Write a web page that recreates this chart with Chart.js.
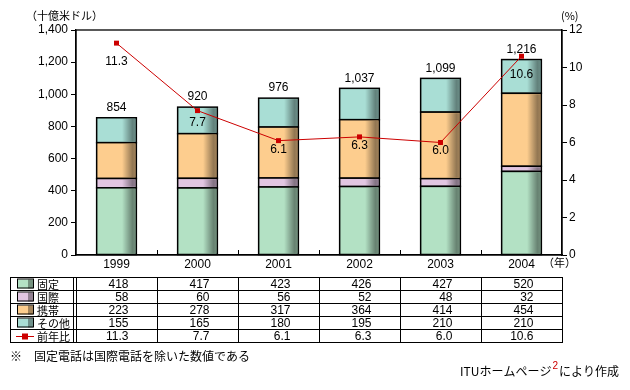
<!DOCTYPE html>
<html>
<head>
<meta charset="utf-8">
<script src="https://cdn.jsdelivr.net/npm/chart.js@4"></script>
<style>
  html, body { margin: 0; padding: 0; background: #fff; }
  #wrap { width: 630px; height: 390px; position: relative; }
</style>
</head>
<body>
<div id="wrap"><canvas id="grafica" width="630" height="390"></canvas></div>
<script>
// datos del gráfico
const years = ['1999', '2000', '2001', '2002', '2003', '2004'];
const fijo = [418, 417, 423, 426, 427, 520];
const internacional = [58, 60, 56, 52, 48, 32];
const movil = [223, 278, 317, 364, 414, 454];
const otros = [155, 165, 180, 195, 210, 210];
const crecimiento = [11.3, 7.7, 6.1, 6.3, 6.0, 10.6];
const totales = [854, 920, 976, 1037, 1099, 1216];
const seriesNames = ['固定', '国際', '携帯', 'その他', '前年比'];

const colores = ['#b3e1c4', '#e2c6e2', '#fdcd8e', '#a9ded5'];
const rojo = '#cc0000';
const numFont = "12px 'Liberation Sans', Arial, sans-serif";
const jpFont = "11px 'Noto Sans CJK JP', sans-serif";
const notaFont = "12px 'Noto Sans CJK JP', sans-serif";
// desplazamiento vertical de las etiquetas del porcentaje
const labelOffsets = [19, 12, 9, 9, 8, 18];

const fmt = v => v.toLocaleString('en-US');

const sombraBarras = {
  id: 'sombraBarras',
  afterDatasetDraw(chart, args) {
    const meta = args.meta;
    if (meta.type !== 'bar') return;
    const ctx = chart.ctx;
    meta.data.forEach(bar => {
      const p = bar.getProps(['x', 'y', 'base', 'width'], true);
      const l = p.x - p.width / 2, r = p.x + p.width / 2;
      const top = Math.min(p.y, p.base), bot = Math.max(p.y, p.base);
      const g = ctx.createLinearGradient(l, 0, r, 0);
      g.addColorStop(0, 'rgba(0,0,0,0)');
      g.addColorStop(0.64, 'rgba(0,0,0,0)');
      g.addColorStop(0.9, 'rgba(0,0,0,0.42)');
      g.addColorStop(1, 'rgba(0,0,0,0.36)');
      ctx.save();
      ctx.fillStyle = g;
      ctx.fillRect(l + 1, top + 1, p.width - 2, bot - top - 2);
      ctx.strokeStyle = '#000';
      ctx.lineWidth = 1.5;
      ctx.strokeRect(l, top, p.width, bot - top);
      ctx.restore();
    });
  }
};

const extras = {
  id: 'extras',
  afterDraw(chart) {
    const ctx = chart.ctx;
    const a = chart.chartArea;
    const x = chart.scales.x;
    ctx.save();
    // marco
    ctx.strokeStyle = '#000';
    ctx.lineWidth = 1.3;
    ctx.strokeRect(a.left, a.top, a.right - a.left, a.bottom - a.top);
    // marcas del eje x
    const cw = (a.right - a.left) / years.length;
    ctx.lineWidth = 1;
    for (let i = 1; i < years.length; i++) {
      const px = Math.round(a.left + cw * i) + 0.5;
      ctx.beginPath();
      ctx.moveTo(px, a.bottom);
      ctx.lineTo(px, a.bottom - 5);
      ctx.stroke();
    }

    ctx.fillStyle = '#000';
    ctx.font = numFont;
    ctx.textAlign = 'center';
    ctx.textBaseline = 'middle';
    // totales
    const topMeta = chart.getDatasetMeta(4);
    topMeta.data.forEach((bar, i) => {
      ctx.fillText(fmt(totales[i]), bar.x, bar.y - 10);
    });
    // etiquetas del porcentaje
    const lineMeta = chart.getDatasetMeta(0);
    lineMeta.data.forEach((pt, i) => {
      ctx.fillText(crecimiento[i].toFixed(1), pt.x, pt.y + labelOffsets[i]);
    });

    // títulos de ejes
    ctx.font = jpFont;
    ctx.textAlign = 'left';
    ctx.fillText('（十億米ドル）', 26, 16);
    ctx.fillText('(%)', 561, 16);
    ctx.fillText('（年）', 543, 263);

    // tabla
    const t0 = 277, rh = 13, tl = 10, tr = a.right;
    ctx.lineWidth = 1;
    ctx.strokeStyle = '#000';
    ctx.strokeRect(tl + 0.5, t0 + 0.5, tr - tl, rh * 5);
    for (let r = 1; r < 5; r++) {
      ctx.beginPath();
      ctx.moveTo(tl, t0 + rh * r + 0.5);
      ctx.lineTo(tr, t0 + rh * r + 0.5);
      ctx.stroke();
    }
    [73.5, 76.5].forEach(px => {
      ctx.beginPath();
      ctx.moveTo(px, t0);
      ctx.lineTo(px, t0 + rh * 5);
      ctx.stroke();
    });
    for (let i = 1; i < years.length; i++) {
      const px = Math.round(a.left + cw * i) + 0.5;
      ctx.beginPath();
      ctx.moveTo(px, t0);
      ctx.lineTo(px, t0 + rh * 5);
      ctx.stroke();
    }
    const filas = [fijo, internacional, movil, otros];
    for (let r = 0; r < 5; r++) {
      const cy = t0 + rh * r + rh / 2 + 1;
      // leyenda
      if (r < 4) {
        ctx.fillStyle = colores[r];
        ctx.fillRect(17, cy - 5, 16, 9);
        ctx.fillStyle = 'rgba(0,0,0,0.35)';
        ctx.fillRect(28, cy - 5, 5, 9);
        ctx.strokeRect(17.5, cy - 5.5, 16, 9);
      } else {
        ctx.strokeStyle = rojo;
        ctx.beginPath();
        ctx.moveTo(16, cy);
        ctx.lineTo(34, cy);
        ctx.stroke();
        ctx.fillStyle = rojo;
        ctx.fillRect(22, cy - 3, 6, 6);
        ctx.strokeStyle = '#000';
      }
      ctx.fillStyle = '#000';
      ctx.font = jpFont;
      ctx.textAlign = 'left';
      ctx.fillText(seriesNames[r], 37, cy);
      ctx.font = numFont;
      ctx.textAlign = 'right';
      for (let i = 0; i < years.length; i++) {
        const cx = x.getPixelForValue(i);
        const txt = r < 4 ? fmt(filas[r][i]) : crecimiento[i].toFixed(1);
        ctx.fillText(txt, cx + 12, cy);
      }
    }

    // notas
    ctx.font = notaFont;
    ctx.textAlign = 'left';
    ctx.fillText('※　固定電話は国際電話を除いた数値である', 10, 356);
    ctx.textAlign = 'right';
    const fin = 'により作成';
    const w1 = ctx.measureText(fin).width;
    ctx.fillText(fin, 619, 371);
    ctx.fillStyle = rojo;
    ctx.font = "10px 'Liberation Sans', Arial, sans-serif";
    const w2 = ctx.measureText('2').width;
    ctx.fillText('2', 619 - w1 - 1, 366);
    ctx.fillStyle = '#000';
    ctx.font = notaFont;
    ctx.fillText('ITUホームページ', 619 - w1 - w2 - 2, 371);
    ctx.restore();
  }
};

const barDs = (label, data, color) => ({
  type: 'bar',
  label,
  data,
  backgroundColor: color,
  borderColor: '#000',
  borderWidth: 0,
  yAxisID: 'y',
  stack: 'total',
  order: 1,
  categoryPercentage: 1,
  barPercentage: 0.49
});

new Chart(document.getElementById('grafica'), {
  data: {
    labels: years,
    datasets: [
      {
        type: 'line',
        label: '前年比',
        data: crecimiento,
        yAxisID: 'y2',
        borderColor: rojo,
        backgroundColor: rojo,
        borderWidth: 1,
        pointStyle: 'rect',
        pointRadius: 3.5,
        pointBorderWidth: 0,
        tension: 0,
        order: 0
      },
      barDs('固定', fijo, colores[0]),
      barDs('国際', internacional, colores[1]),
      barDs('携帯', movil, colores[2]),
      barDs('その他', otros, colores[3])
    ]
  },
  options: {
    responsive: false,
    animation: false,
    devicePixelRatio: 1,
    layout: { padding: { left: 0, right: 0, top: 30, bottom: 115 } },
    plugins: {
      legend: { display: false },
      tooltip: { enabled: false }
    },
    scales: {
      x: {
        stacked: true,
        offset: true,
        grid: { display: false, drawTicks: false },
        border: { display: true, color: '#000', width: 1.3 },
        ticks: { color: '#000', font: { family: "'Liberation Sans', Arial, sans-serif", size: 12 }, padding: 2, maxRotation: 0 },
        afterFit: s => { s.height = 20; }
      },
      y: {
        stacked: true,
        position: 'left',
        min: 0,
        max: 1400,
        ticks: {
          stepSize: 200,
          color: '#000',
          padding: 3,
          font: { family: "'Liberation Sans', Arial, sans-serif", size: 12 },
          callback: v => fmt(v)
        },
        grid: { drawOnChartArea: false, drawTicks: true, tickLength: 5, color: '#000' },
        border: { display: true, color: '#000', width: 1.3 },
        afterFit: s => { s.width = 76; }
      },
      y2: {
        position: 'right',
        min: 0,
        max: 12,
        ticks: {
          stepSize: 2,
          color: '#000',
          padding: 2,
          font: { family: "'Liberation Sans', Arial, sans-serif", size: 12 }
        },
        grid: { drawOnChartArea: false, drawTicks: true, tickLength: 5, color: '#000' },
        border: { display: true, color: '#000', width: 1.3 },
        afterFit: s => { s.width = 68; }
      }
    }
  },
  plugins: [sombraBarras, extras]
});
</script>
</body>
</html>
